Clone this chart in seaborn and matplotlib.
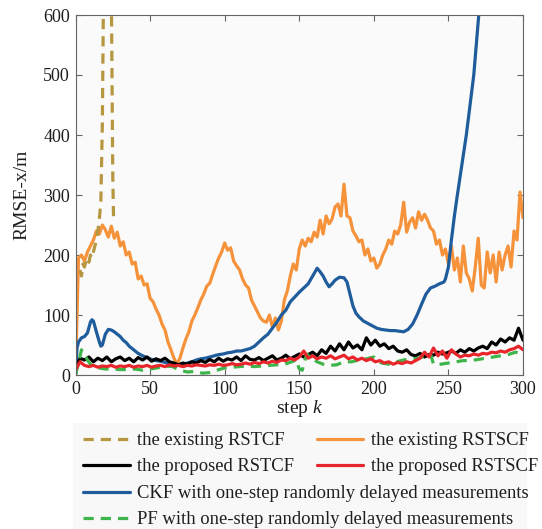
import matplotlib
matplotlib.use("Agg")
import matplotlib.pyplot as plt
import matplotlib.patches as mpatches
from matplotlib.lines import Line2D
import numpy as np
import pandas as pd
import seaborn as sns

# ---- data -------------------------------------------------------------
steps_orange = list(range(0, 301, 2))
rmse_existing_rstscf = [
    0, 195, 200, 190, 205, 215, 225, 240, 235, 250, 242, 230, 248, 228, 238, 215,
    222, 200, 205, 185, 188, 160, 165, 150, 152, 128, 122, 110, 100, 85, 75, 55,
    42, 28, 18, 28, 45, 60, 72, 90, 100, 112, 125, 135, 148, 153, 168, 182,
    195, 205, 220, 208, 212, 190, 182, 175, 160, 150, 145, 125, 115, 105, 95, 90,
    88, 100, 80, 95, 75, 90, 125, 140, 165, 185, 175, 210, 225, 215, 228, 222,
    238, 230, 258, 235, 265, 252, 260, 280, 285, 265, 318, 265, 262, 240, 232, 222,
    225, 200, 210, 190, 195, 178, 185, 200, 210, 225, 218, 240, 235, 250, 288, 238,
    255, 262, 245, 272, 258, 268, 258, 245, 240, 218, 225, 200, 210, 185, 215, 175,
    195, 155, 215, 170, 160, 140, 180, 228, 150, 145, 205, 170, 200, 155, 205, 175,
    200, 215, 180, 240, 225, 305, 262,
]

steps_gold = [3, 4, 5, 6, 7, 8, 9, 10, 11, 12, 13, 14, 15, 16, 17, 18, 19, 20, 23, 24, 25, 25.5]
rmse_existing_rstcf = [175, 165, 185, 180, 190, 195, 188, 200, 195, 205, 215, 225, 240,
                       260, 290, 420, 700, 1000, 1000, 650, 330, 262]

steps_bw = list(range(0, 301, 3))
rmse_proposed_rstcf = [
    10, 28, 25, 30, 22, 28, 24, 30, 22, 27, 30, 24, 28, 22, 29, 25, 30, 23, 27, 24,
    28, 22, 20, 17, 20, 18, 22, 20, 24, 21, 26, 22, 28, 23, 27, 25, 30, 24, 32, 26,
    25, 29, 24, 28, 32, 25, 28, 33, 27, 31, 35, 30, 34, 38, 32, 42, 36, 48, 40, 52,
    42, 55, 45, 50, 42, 62, 50, 58, 48, 52, 44, 48, 40, 38, 42, 34, 32, 36, 30, 34,
    33, 38, 35, 37, 40, 36, 42, 38, 44, 40, 45, 48, 44, 55, 50, 60, 55, 62, 58, 78, 58,
]
rmse_proposed_rstscf = [
    8, 22, 16, 14, 16, 13, 15, 14, 16, 13, 15, 14, 16, 13, 15, 14, 16, 13, 15, 16,
    14, 17, 15, 16, 14, 16, 15, 17, 16, 15, 17, 16, 18, 16, 17, 19, 17, 18, 20, 18,
    21, 19, 22, 20, 23, 21, 25, 24, 28, 25, 30, 40, 28, 32, 27, 30, 28, 32, 27, 30,
    33, 27, 30, 25, 28, 24, 27, 22, 24, 20, 22, 18, 21, 19, 22, 20, 24, 28, 38, 30,
    45, 32, 40, 28, 42, 35, 30, 33, 32, 35, 33, 36, 35, 38, 37, 40, 38, 42, 44, 48, 42,
]

steps_ckf = [0, 1, 2, 4, 6, 8, 10, 11, 12, 14, 16, 17, 18, 20, 22, 24, 26, 28, 30, 32,
             34, 36, 38, 40, 42, 45, 48, 51, 54, 57, 60, 63, 66, 69, 72, 75, 78, 81, 84,
             87, 90, 93, 96, 99, 102, 105, 108, 111, 114, 117, 120, 123, 126, 129, 132,
             135, 138, 141, 144, 147, 150, 153, 156, 159, 162, 164, 166, 168, 170, 172,
             174, 177, 180, 182, 184, 186, 188, 190, 193, 196, 199, 202, 205, 208, 211,
             214, 217, 220, 223, 226, 229, 232, 235, 238, 241, 244, 247, 248, 250, 252,
             254, 256, 259, 262, 265, 267, 269, 271, 275, 280, 290, 300]
rmse_ckf = [0, 45, 55, 62, 64, 70, 88, 92, 90, 72, 55, 48, 50, 68, 76, 75, 72, 68, 64, 58,
            54, 48, 44, 40, 36, 32, 29, 26, 24, 23, 21, 19, 18, 16, 17, 20, 22, 25, 27,
            28, 30, 32, 34, 35, 37, 38, 40, 40, 42, 44, 48, 55, 62, 68, 78,
            88, 100, 108, 122, 130, 138, 145, 152, 165, 178, 172, 165, 155, 147, 152,
            158, 163, 162, 155, 135, 115, 103, 97, 90, 86, 82, 78, 76, 75, 74,
            74, 73, 72, 76, 85, 100, 118, 135, 145, 148, 152, 155, 160, 180, 225,
            265, 300, 350, 400, 460, 500, 560, 620, 760, 1000, 1500, 2200]

steps_pf = [0, 2, 4, 6, 8, 10, 15, 20, 25, 30, 35, 40, 45, 50, 55, 60, 65, 70, 75, 80,
            85, 90, 95, 100, 105, 110, 115, 120, 125, 130, 135, 140, 145, 148, 150, 152,
            155, 158, 162, 166, 170, 175, 180, 185, 190, 195, 200, 205, 210, 215, 220,
            225, 230, 235, 238, 240, 245, 250, 255, 260, 265, 270, 275, 280, 285, 290,
            295, 300]
rmse_pf = [0, 20, 42, 35, 25, 18, 12, 10, 10, 9, 9, 10, 8, 10, 12, 15, 14, 8, 5, 6,
           3, 4, 8, 12, 13, 14, 15, 14, 15, 16, 17, 18, 22, 25, 10, 8,
           35, 28, 22, 18, 16, 17, 22, 22, 25, 27, 30, 20, 18, 22, 25,
           27, 28, 32, 35, 18, 18, 20, 22, 24, 24, 26, 28, 30, 32, 34,
           38, 35]

labels = [
    "the existing RSTCF",
    "the existing RSTSCF",
    "the proposed RSTCF",
    "the proposed RSTSCF",
    "CKF with one-step randomly delayed measurements",
    "PF with one-step randomly delayed measurements",
]
colors = ["#b6963f", "#f5923a", "#000000", "#e8252b", "#1f5c9c", "#3db54a"]
y_ticks = [0, 100, 200, 300, 400, 500, 600]
x_ticks = [0, 50, 100, 150, 200, 250, 300]

series = [
    (steps_gold, rmse_existing_rstcf),
    (steps_orange, rmse_existing_rstscf),
    (steps_bw, rmse_proposed_rstcf),
    (steps_bw, rmse_proposed_rstscf),
    (steps_ckf, rmse_ckf),
    (steps_pf, rmse_pf),
]
frames = []
for name, (ks, vs) in zip(labels, series):
    frames.append(pd.DataFrame({"step": ks, "rmse": vs, "filter": name}))
df = pd.concat(frames, ignore_index=True)

# ---- style ------------------------------------------------------------
sns.set_theme(style="ticks")
plt.rcParams["font.family"] = ["Liberation Serif", "DejaVu Serif"]
plt.rcParams["mathtext.fontset"] = "custom"
plt.rcParams["mathtext.it"] = "Liberation Serif:italic"
plt.rcParams["mathtext.rm"] = "Liberation Serif"

fig = plt.figure(figsize=(5.42, 5.29), dpi=100)
fig.patch.set_facecolor("white")
ax = fig.add_axes([75.5 / 542, 1 - 375 / 529, (523 - 75.5) / 542, (375 - 15) / 529])
ax.set_facecolor("#fafafa")

lw = 2.3
dash = (0, (3.2, 2.2))
styles = [dash, "-", "-", "-", "-", dash]
draw_order = [1, 4, 2, 5, 3, 0]
for i in draw_order:
    sub = df[df["filter"] == labels[i]]
    sns.lineplot(data=sub, x="step", y="rmse", ax=ax, color=colors[i], lw=lw,
                 linestyle=styles[i], legend=False, estimator=None, sort=False)

text_col = "#1e1e1e"
ax.set_xlim(0, 300)
ax.set_ylim(0, 600)
ax.set_xticks(x_ticks)
ax.set_yticks(y_ticks)
ax.tick_params(direction="in", top=True, right=True, length=4, width=0.8,
               labelsize=13, colors=text_col, pad=4)
ax.tick_params(axis="both", colors="#666666", labelcolor=text_col)
for s in ax.spines.values():
    s.set_color("#666666")
    s.set_linewidth(0.8)
ax.set_xlabel(r"step $k$", fontsize=14, labelpad=0, color=text_col)
ax.set_ylabel("RMSE-x/m", fontsize=14, labelpad=9, color=text_col)

# ---- legend block below the axes ---------------------------------------
fig.patches.append(mpatches.Rectangle((73 / 542, 0), (527 - 73) / 542, 1 - 423 / 529,
                                      transform=fig.transFigure, facecolor="#f8f8f8",
                                      edgecolor="none", zorder=0))


def handle(i):
    return Line2D([0], [0], color=colors[i], lw=lw, linestyle=styles[i])


common = dict(frameon=False, fontsize=13.4, handlelength=2.5, handletextpad=0.42,
              borderpad=0, borderaxespad=0)
leg1 = fig.legend([handle(0), handle(2), handle(1), handle(3)],
                  [labels[0], labels[2], labels[1], labels[3]],
                  ncol=2, loc="upper left", bbox_to_anchor=(83 / 542, 1 - 432 / 529),
                  columnspacing=1.2, labelspacing=0.5, **common)
leg2 = fig.legend([handle(4), handle(5)], [labels[4], labels[5]],
                  ncol=1, loc="upper left", bbox_to_anchor=(83 / 542, 1 - 485 / 529),
                  labelspacing=0.5, **common)
for leg in (leg1, leg2):
    for t in leg.get_texts():
        t.set_color(text_col)

fig.savefig("out.png", dpi=100)
